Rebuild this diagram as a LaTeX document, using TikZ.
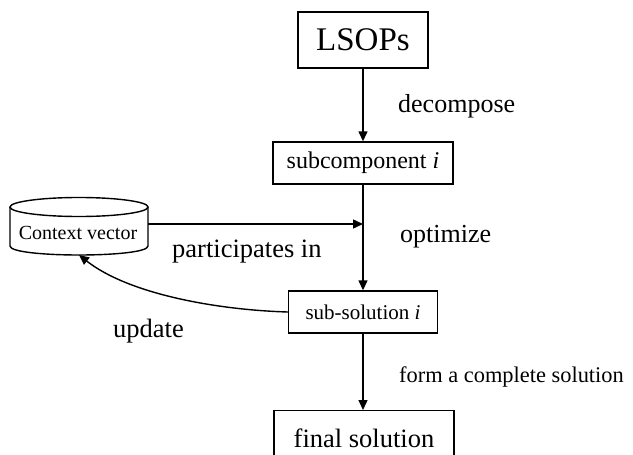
\documentclass[tikz,border=0pt]{standalone}
\usepackage{fontspec}
\setmainfont{Liberation Serif}
\usetikzlibrary{arrows.meta}
\newcommand{\fs}[1]{\fontsize{#1}{#1}\selectfont}
\begin{document}
\begin{tikzpicture}[x=1pt,y=-1pt,
  line/.style={line width=1.4pt},
  box/.style={line, draw, rectangle, inner sep=0pt},
  arr/.style={line, -{Triangle[length=10pt,width=9pt]}},
  lbl/.style={anchor=base west, inner sep=0pt}]
\useasboundingbox (0,0) rectangle (633,455);

% process boxes
\node[box, minimum width=130pt, minimum height=56pt, font=\fs{33}] (lsops) at (363,40) {LSOPs};
\node[box, minimum width=180pt, minimum height=42pt, font=\fs{24}] (sub) at (363,163) {subcomponent \textit{i}};
\node[box, minimum width=149pt, minimum height=42pt, font=\fs{21}] (sol) at (363,312) {sub-solution \textit{i}};
\node[box, anchor=north, minimum width=180pt, minimum height=56pt, font=\fs{26.5}] (final) at (364,410) {final solution};

% context vector store (cylinder)
\draw[line] (10,207) -- (10,246) .. controls (10,258) and (148,258) .. (148,246) -- (148,207);
\draw[line] (79,207) ellipse[x radius=69, y radius=9.5];
\node[font=\fs{20}, inner sep=0pt] (cv) at (78,233) {Context vector};
\coordinate (cvR) at (148,224);
\coordinate (cvB) at (79,255);

% connectors
\draw[arr] (lsops) -- (sub);
\draw[arr] (sub) -- (sol);
\draw[arr] (sol) -- (sol |- final.north);
\draw[arr] (cvR) -- (cvR -| sub.center);
\draw[arr] (sol.west) .. controls (220,310) and (130,295) .. (cvB);

% labels
\node[lbl, font=\fs{26}] (ldec) at (398,112) {decompose};
\node[lbl, font=\fs{26}] (lopt) at (400,242) {optimize};
\node[lbl, font=\fs{26.5}] (lpart) at (172,257) {participates in};
\node[lbl, font=\fs{26.5}] (lupd) at (113,337) {update};
\node[lbl, font=\fs{22.4}] (lform) at (399,382) {form a complete solution};
\end{tikzpicture}
\end{document}
